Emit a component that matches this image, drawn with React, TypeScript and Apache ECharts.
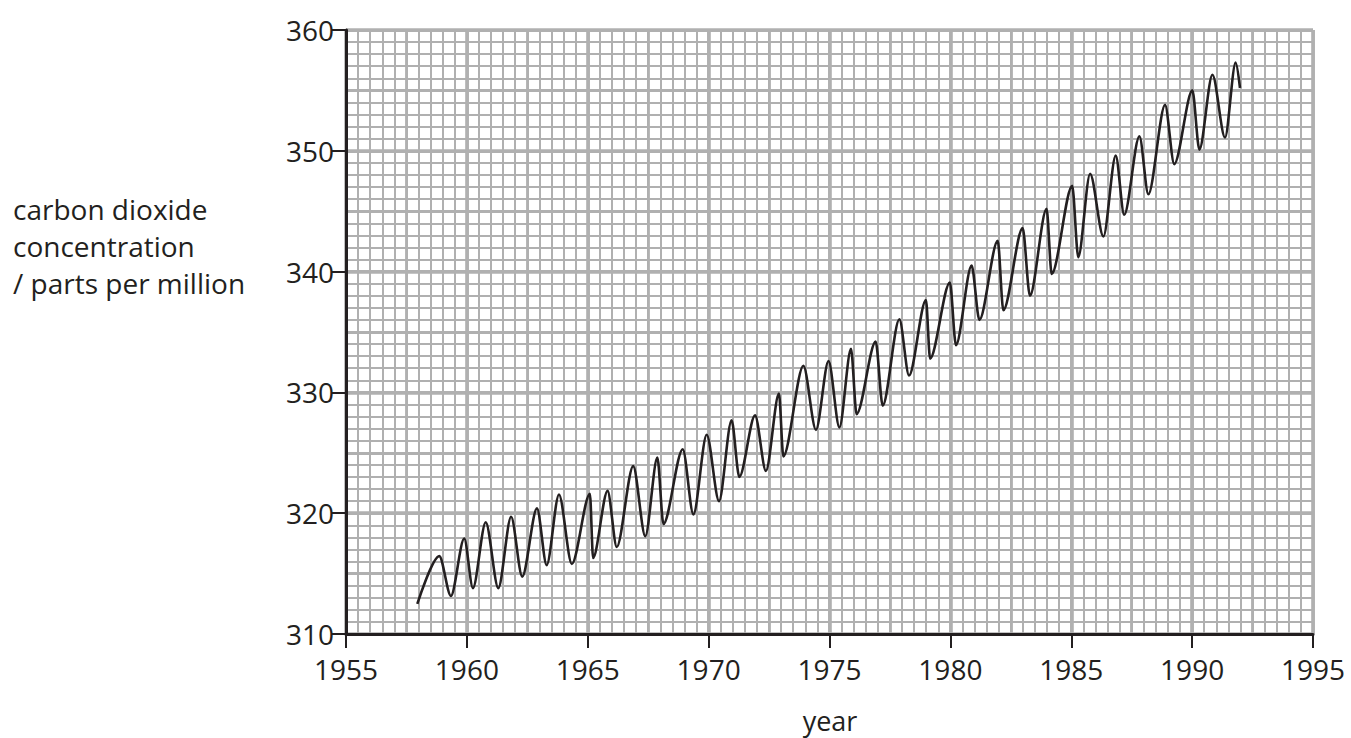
import React, { useEffect, useRef } from "react";
import * as echarts from "echarts";

const years: number[] = [
  1957.95, 1958.86, 1959.34, 1959.89, 1960.25, 1960.78, 1961.3, 1961.83, 1962.29, 1962.9,
  1963.3, 1963.81, 1964.34, 1965.09, 1965.22, 1965.82, 1966.2, 1966.88, 1967.38, 1967.88,
  1968.13, 1968.93, 1969.37, 1969.92, 1970.43, 1970.95, 1971.27, 1971.92, 1972.37, 1972.91,
  1973.09, 1973.92, 1974.44, 1974.96, 1975.41, 1975.89, 1976.12, 1976.91, 1977.2, 1977.89,
  1978.29, 1978.99, 1979.16, 1979.98, 1980.23, 1980.88, 1981.2, 1981.96, 1982.19, 1982.99,
  1983.29, 1983.98, 1984.19, 1985.04, 1985.29, 1985.78, 1986.33, 1986.84, 1987.19, 1987.82,
  1988.19, 1988.88, 1989.26, 1990.01, 1990.3, 1990.84, 1991.36, 1991.8, 1991.98,
];
const co2: number[] = [
  312.5, 316.45, 313.15, 317.9, 313.8, 319.25, 313.8, 319.7, 314.75, 320.4,
  315.7, 321.55, 315.8, 321.6, 316.3, 321.85, 317.2, 323.9, 318.1, 324.6,
  319.1, 325.3, 319.9, 326.5, 321.0, 327.7, 323.0, 328.1, 323.5, 329.9,
  324.7, 332.2, 326.9, 332.6, 327.1, 333.6, 328.2, 334.2, 328.9, 336.05,
  331.4, 337.65, 332.8, 339.1, 333.9, 340.5, 336.0, 342.55, 336.8, 343.6,
  338.0, 345.2, 339.8, 347.1, 341.2, 348.1, 342.9, 349.6, 344.7, 351.2,
  346.4, 353.8, 348.9, 355.0, 350.1, 356.3, 351.1, 357.3, 355.2,
];

const xMin = 1955;
const xMax = 1995;
const yMin = 310;
const yMax = 360;
const yTitle = "carbon dioxide\nconcentration\n/ parts per million";
const xTitle = "year";

const FONT = "'Open Sans', 'Noto Sans', sans-serif";
const INK = "#231f20";
const GRID = "#b0b0b0";

export default function App() {
  const ref = useRef<HTMLDivElement>(null);
  useEffect(() => {
    document.body.style.margin = "0";
    if (!ref.current) return;
    const chart = echarts.init(ref.current, undefined, { renderer: "svg" });

    const gridAxis = (interval: number, width: number, z: number) => ({
      type: "value",
      interval,
      z,
      offset: 0,
      axisLine: { show: false },
      axisTick: { show: false },
      axisLabel: { show: false },
      splitLine: { show: true, lineStyle: { color: GRID, width } },
    });

    const xGrid = (interval: number, width: number, z: number) => ({
      ...gridAxis(interval, width, z),
      position: "bottom",
      min: xMin,
      max: xMax,
    });
    const yGrid = (interval: number, width: number, z: number) => ({
      ...gridAxis(interval, width, z),
      position: "left",
      min: yMin,
      max: yMax,
    });

    chart.setOption({
      animation: false,
      grid: {
        left: 346,
        right: 38,
        top: 30,
        bottom: 104,
        containLabel: false,
        outerBoundsMode: "none",
      },
      xAxis: [
        xGrid(0.5, 2, 1),
        xGrid(2.5, 2.8, 2),
        {
          type: "value",
          position: "bottom",
          offset: 0,
          min: xMin,
          max: xMax,
          interval: 5,
          z: 5,
          axisLine: { show: true, onZero: false, lineStyle: { color: INK, width: 3 } },
          axisTick: { show: true, length: 14, lineStyle: { color: INK, width: 2 } },
          axisLabel: {
            show: true,
            margin: 21,
            fontSize: 28,
            fontFamily: FONT,
            color: INK,
            formatter: (v: number) => String(v),
          },
          splitLine: { show: true, lineStyle: { color: GRID, width: 3.6 } },
        },
      ],
      yAxis: [
        yGrid(1, 2, 1),
        yGrid(5, 2.8, 2),
        {
          type: "value",
          position: "left",
          offset: 0,
          min: yMin,
          max: yMax,
          interval: 10,
          z: 5,
          axisLine: { show: true, onZero: false, lineStyle: { color: INK, width: 3 } },
          axisTick: { show: true, length: 14, lineStyle: { color: INK, width: 2 } },
          axisLabel: {
            show: true,
            margin: 12,
            fontSize: 28,
            fontFamily: FONT,
            color: INK,
            formatter: (v: number) => String(v),
          },
          splitLine: { show: true, lineStyle: { color: GRID, width: 3.6 } },
        },
      ],
      graphic: [
        {
          type: "text",
          left: 13,
          top: 190,
          style: {
            text: yTitle,
            font: `28px ${FONT}`,
            fill: INK,
            lineHeight: 37,
            textAlign: "left",
          },
        },
        {
          type: "text",
          x: 830,
          y: 720,
          style: {
            text: xTitle,
            font: `27px ${FONT}`,
            fill: INK,
            textAlign: "center",
            textVerticalAlign: "middle",
          },
        },
      ],
      series: [
        {
          type: "line",
          xAxisIndex: 2,
          yAxisIndex: 2,
          z: 10,
          data: years.map((y, i) => [y, co2[i]]),
          showSymbol: false,
          smooth: 0.3,
          smoothMonotone: "x",
          lineStyle: { color: INK, width: 2.6 },
        },
      ],
    });
    return () => chart.dispose();
  }, []);
  return <div ref={ref} style={{ width: 1351, height: 738 }} />;
}
